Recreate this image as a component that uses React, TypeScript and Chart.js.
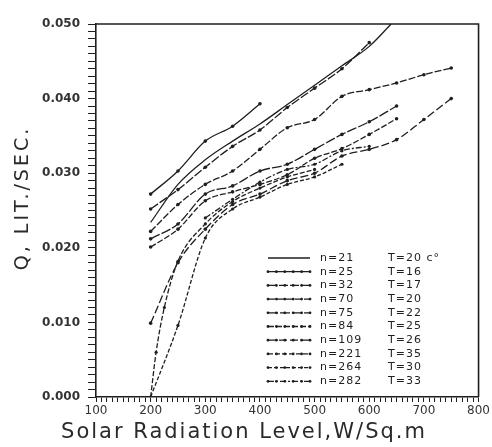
import React, { useEffect, useRef } from 'react';
import { Chart, registerables } from 'chart.js';

Chart.register(...registerables);

// ---- data (Solar radiation W/m² vs discharge Q, lit/sec) ----
const legendLabels = ['n=21', 'n=25', 'n=32', 'n=70', 'n=75', 'n=84', 'n=109', 'n=221', 'n=264', 'n=282'];
const legendTemps = ['T=20 c°', 'T=16', 'T=17', 'T=20', 'T=22', 'T=25', 'T=26', 'T=35', 'T=30', 'T=33'];

const n21X = [200, 250, 300, 350, 400, 450, 500, 550, 600, 640];
const n21Y = [0.0234, 0.0285, 0.0318, 0.0343, 0.0366, 0.0392, 0.0418, 0.0444, 0.0470, 0.0500];

const n25X = [200, 250, 300, 350, 400];
const n25Y = [0.0272, 0.0303, 0.0343, 0.0363, 0.0393];

const n32X = [200, 250, 300, 350, 400, 450, 500, 550, 600];
const n32Y = [0.0252, 0.0278, 0.0308, 0.0336, 0.0358, 0.0388, 0.0414, 0.0440, 0.0475];

const n70X = [200, 250, 300, 350, 400, 450, 500, 550, 600, 650, 700, 750];
const n70Y = [0.0222, 0.0258, 0.0285, 0.0303, 0.0332, 0.0361, 0.0372, 0.0403, 0.0412, 0.0421, 0.0432, 0.0441];

const n75X = [200, 250, 300, 350, 400, 450, 500, 550, 600, 650];
const n75Y = [0.0212, 0.0232, 0.0272, 0.0283, 0.0303, 0.0312, 0.0332, 0.0352, 0.0369, 0.0390];

const n84X = [200, 250, 300, 350, 400, 450, 500, 550, 600, 650];
const n84Y = [0.0201, 0.0225, 0.0263, 0.0275, 0.0285, 0.0298, 0.0320, 0.0333, 0.0352, 0.0373];

const n109X = [200, 250, 300, 350, 400, 450, 500, 550, 600, 650, 700, 750];
const n109Y = [0.0099, 0.0180, 0.0225, 0.0258, 0.0272, 0.0290, 0.0300, 0.0323, 0.0332, 0.0345, 0.0372, 0.0400];

const n221X = [200, 210, 225, 250, 300, 350, 400, 450, 500];
const n221Y = [0.0000, 0.0060, 0.0120, 0.0182, 0.0232, 0.0262, 0.0280, 0.0295, 0.0305];

const n264X = [200, 250, 300, 350, 400, 450, 500, 550];
const n264Y = [0.0000, 0.0096, 0.0213, 0.0252, 0.0268, 0.0285, 0.0295, 0.0312];

const n282X = [300, 350, 400, 450, 500, 550, 600];
const n282Y = [0.0240, 0.0265, 0.0288, 0.0305, 0.0312, 0.0330, 0.0336];

const seriesX = [n21X, n25X, n32X, n70X, n75X, n84X, n109X, n221X, n264X, n282X];
const seriesY = [n21Y, n25Y, n32Y, n70Y, n75Y, n84Y, n109Y, n221Y, n264Y, n282Y];
const seriesDash: number[][] = [[], [], [9, 2], [7, 2], [10, 2], [6, 2], [8, 3], [5, 2], [4, 2], [6, 2, 2, 2]];
const seriesDots = [0, 1.8, 1.8, 1.8, 1.8, 1.8, 1.8, 1.6, 1.6, 1.6];

const xMin = 100, xMax = 800, xStep = 10, xLabelStep = 100;
const yMin = 0, yMax = 0.05, yStep = 0.001, yLabelStep = 0.01;

const xTitle = 'Solar Radiation Level,W/Sq.m';
const yTitle = 'Q, LIT./SEC.';

const ink = '#1f1f1f';

const framePlugin = {
  id: 'frame',
  afterDraw(chart: any) {
    const { ctx, chartArea: a } = chart;
    ctx.save();
    ctx.strokeStyle = ink;
    ctx.lineWidth = 1.6;
    ctx.beginPath();
    ctx.moveTo(a.left, a.top);
    ctx.lineTo(a.right, a.top);
    ctx.lineTo(a.right, a.bottom);
    ctx.stroke();
    ctx.restore();
  },
};

const titlesPlugin = {
  id: 'titles',
  afterDraw(chart: any) {
    const { ctx } = chart;
    ctx.save();
    ctx.fillStyle = '#2a2a2a';
    ctx.textAlign = 'center';
    ctx.textBaseline = 'middle';
    (ctx as any).letterSpacing = '2px';
    ctx.font = '21px "DejaVu Sans"';
    ctx.fillText(xTitle, 244, 433);
    (ctx as any).letterSpacing = '3px';
    ctx.font = '19px "DejaVu Sans"';
    ctx.translate(23, 198);
    ctx.rotate(-Math.PI / 2);
    ctx.fillText(yTitle, 0, 0);
    ctx.restore();
  },
};

const legendPlugin = {
  id: 'insideLegend',
  afterDatasetsDraw(chart: any) {
    const { ctx } = chart;
    const x0 = 268, x1 = 310, tx = 320, tx2 = 388, y0 = 258, dy = 13.7;
    chart.data.datasets.forEach((ds: any, i: number) => {
      const y = y0 + i * dy;
      ctx.save();
      ctx.strokeStyle = ink;
      ctx.fillStyle = ink;
      ctx.lineWidth = 1.3;
      ctx.setLineDash(ds.borderDash || []);
      ctx.beginPath();
      ctx.moveTo(x0, y);
      ctx.lineTo(x1, y);
      ctx.stroke();
      ctx.setLineDash([]);
      if (ds.pointRadius > 0) {
        for (let k = 0; k < 6; k++) {
          ctx.beginPath();
          ctx.arc(x0 + (k * (x1 - x0)) / 5, y, 1.4, 0, Math.PI * 2);
          ctx.fill();
        }
      }
      (ctx as any).letterSpacing = '1px';
      ctx.font = '11px "DejaVu Sans"';
      ctx.textBaseline = 'middle';
      ctx.fillText(ds.label, tx, y);
      ctx.fillText(legendTemps[i], tx2, y);
      ctx.restore();
    });
  },
};

const isMultiple = (v: number, step: number) => Math.abs(v / step - Math.round(v / step)) < 1e-6;

export default function App() {
  const ref = useRef<HTMLCanvasElement | null>(null);

  useEffect(() => {
    if (!ref.current) return;
    const datasets = legendLabels.map((label, i) => ({
      label,
      data: seriesX[i].map((x, j) => ({ x, y: seriesY[i][j] })),
      borderColor: ink,
      backgroundColor: ink,
      borderWidth: 1.3,
      borderDash: seriesDash[i],
      pointRadius: seriesDots[i],
      pointHoverRadius: seriesDots[i],
      pointBorderWidth: 0,
      cubicInterpolationMode: 'monotone' as const,
      tension: 0.4,
      fill: false,
    }));

    const chart = new Chart(ref.current, {
      type: 'line',
      data: { datasets },
      plugins: [framePlugin, titlesPlugin, legendPlugin],
      options: {
        animation: false,
        responsive: true,
        maintainAspectRatio: false,
        parsing: false as any,
        layout: { padding: { top: 24, right: 11, left: 0, bottom: 0 } },
        plugins: { legend: { display: false }, tooltip: { enabled: false } },
        scales: {
          x: {
            type: 'linear',
            min: xMin,
            max: xMax,
            afterFit: (s: any) => { s.height = 50; },
            border: { display: true, color: ink, width: 1.6 },
            grid: { drawOnChartArea: false, drawTicks: true, tickLength: 5, color: ink, tickWidth: 1 },
            ticks: {
              stepSize: xStep,
              autoSkip: false,
              maxRotation: 0,
              padding: 2,
              color: '#333',
              font: { family: '"DejaVu Sans"', size: 12 },
              callback: (v: any) => (isMultiple(Number(v), xLabelStep) ? String(v) : ''),
            },
          },
          y: {
            type: 'linear',
            min: yMin,
            max: yMax,
            afterFit: (s: any) => { s.width = 96; },
            border: { display: true, color: ink, width: 1.6 },
            grid: { drawOnChartArea: false, drawTicks: true, tickLength: 8, color: ink, tickWidth: 1 },
            ticks: {
              stepSize: yStep,
              autoSkip: false,
              padding: 8,
              color: '#333',
              font: { family: '"DejaVu Sans"', size: 12, weight: 'bold' },
              callback: (v: any) => (isMultiple(Number(v), yLabelStep) ? Number(v).toFixed(3) : ''),
            },
          },
        },
      },
    });
    return () => chart.destroy();
  }, []);

  return (
    <div style={{ position: 'fixed', left: 0, top: 0, width: 492, height: 447, background: '#fff' }}>
      <canvas ref={ref} />
    </div>
  );
}
